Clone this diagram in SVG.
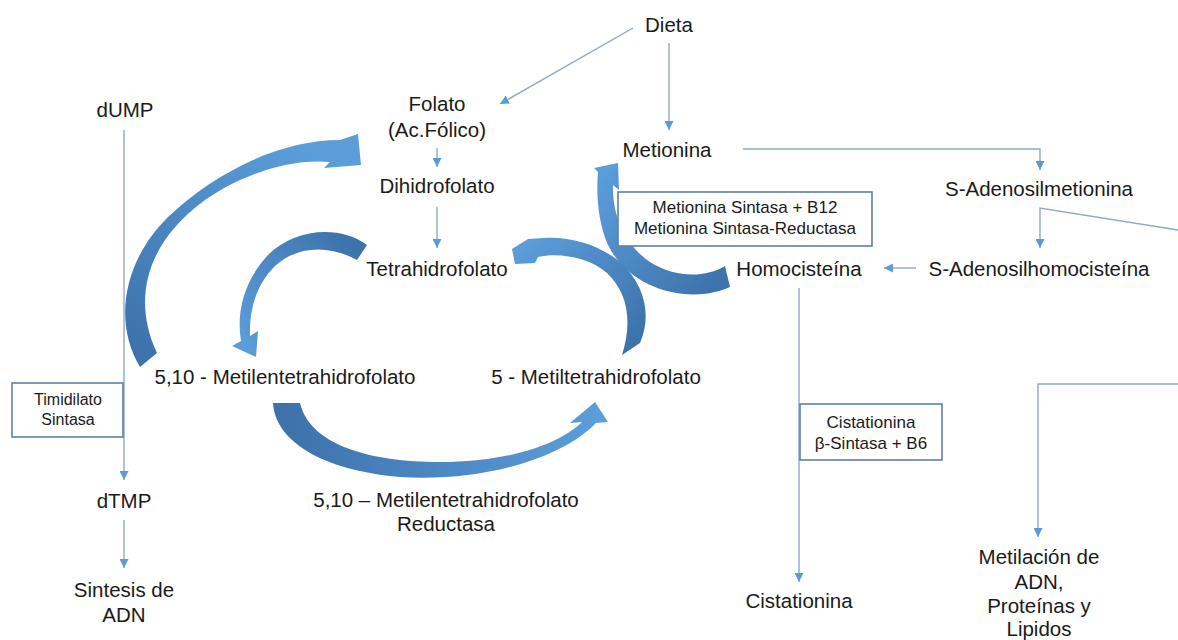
<svg xmlns="http://www.w3.org/2000/svg" width="1178" height="640" viewBox="0 0 1178 640">
<style>
text{font-family:"Liberation Sans",Arial,sans-serif;fill:#1a1a1a;text-anchor:middle}
.t{font-size:20.5px}
.b1{font-size:17px}
.b2{font-size:16px}
.b3{font-size:17px}
.ln{fill:none;stroke:#8ea8c8;stroke-width:1.4}
.box{fill:#fff;stroke:#5f80a8;stroke-width:1.6}
</style>
<defs>
<marker id="ah" viewBox="0 0 10 10" refX="10" refY="5" markerUnits="userSpaceOnUse" markerWidth="9" markerHeight="9" orient="auto">
<path d="M0,0 L10,5 L0,10 z" fill="#5b9bd5"/>
</marker>
<linearGradient id="g1" gradientUnits="userSpaceOnUse" x1="150" y1="360" x2="300" y2="145"><stop offset="0" stop-color="#3d72ab"/><stop offset="1" stop-color="#5b9dd9"/></linearGradient>
<linearGradient id="g2" gradientUnits="userSpaceOnUse" x1="360" y1="250" x2="245" y2="345"><stop offset="0" stop-color="#3d72ab"/><stop offset="1" stop-color="#5b9dd9"/></linearGradient>
<linearGradient id="g3" gradientUnits="userSpaceOnUse" x1="728" y1="276" x2="605" y2="170"><stop offset="0" stop-color="#3d72ab"/><stop offset="1" stop-color="#5b9dd9"/></linearGradient>
<linearGradient id="g4" gradientUnits="userSpaceOnUse" x1="630" y1="350" x2="520" y2="250"><stop offset="0" stop-color="#3d72ab"/><stop offset="1" stop-color="#5b9dd9"/></linearGradient>
<linearGradient id="g5" gradientUnits="userSpaceOnUse" x1="285" y1="403" x2="595" y2="415"><stop offset="0" stop-color="#3d72ab"/><stop offset="1" stop-color="#5b9dd9"/></linearGradient>
</defs>
<rect width="1178" height="640" fill="#fff"/>
<g id="connectors">
<line class="ln" x1="633" y1="28" x2="500" y2="104" marker-end="url(#ah)"/>
<line class="ln" x1="669" y1="43" x2="669" y2="130" marker-end="url(#ah)"/>
<line class="ln" x1="437" y1="148" x2="437" y2="167" marker-end="url(#ah)"/>
<line class="ln" x1="437" y1="207" x2="437" y2="248" marker-end="url(#ah)"/>
<polyline class="ln" points="743,149 1040,149 1040,170" marker-end="url(#ah)"/>
<polyline class="ln" points="1178,230 1040,208 1040,248" marker-end="url(#ah)"/>
<line class="ln" x1="916" y1="268" x2="884" y2="268" marker-end="url(#ah)"/>
<line class="ln" x1="799" y1="288" x2="799" y2="582" marker-end="url(#ah)"/>
<line class="ln" x1="124" y1="130" x2="124" y2="480" marker-end="url(#ah)"/>
<line class="ln" x1="124" y1="520" x2="124" y2="568" marker-end="url(#ah)"/>
<polyline class="ln" points="1178,384 1038,384 1038,537" marker-end="url(#ah)"/>
<path id="arc1" fill="url(#g1)" d="M140,367 C112,320 125,260 167,218 C215,172 280,140 340,140 L358,134 L361,165 L324,168 L330,162 C290,158 240,175 205,200 C150,240 130,295 157,353 Z"/>
<path id="arc2" fill="url(#g2)" d="M367,245 C340,225 295,228 268,255 C245,280 236,310 241,341 L232,346 L256,357 L258,331 L250,336 C249,310 256,285 275,266 C298,245 330,245 357,260 Z"/>
<path id="arc3" fill="url(#g3)" d="M730,287 C690,305 630,290 608,245 C598,222 596,195 598,172 L594,168 L618,163 L619,190 L613,185 C612,215 625,245 650,262 C675,278 705,278 725,266 Z"/>
<path id="arc4" fill="url(#g4)" d="M640,343 C652,315 645,285 620,262 C600,245 570,236 543,238 L528,239 L512,249 L515,264 L535,263 L538,257 C560,252 590,258 607,273 C627,292 633,320 622,355 Z"/>
<path id="arc5" fill="url(#g5)" d="M273,403 C275,440 320,470 400,477 C480,482 560,460 596,423 L608,422 L595,402 L570,423 L582,422 C555,448 500,462 440,462 C370,462 310,445 300,403 Z"/>
</g>
<g id="dieta"><text class="t" x="669" y="32">Dieta</text></g>
<g id="folato"><text class="t" x="437" y="111">Folato</text><text class="t" x="437" y="137">(Ac.Fólico)</text></g>
<g id="dihidrofolato"><text class="t" x="437" y="193">Dihidrofolato</text></g>
<g id="tetrahidrofolato"><text class="t" x="437" y="276">Tetrahidrofolato</text></g>
<g id="dump"><text class="t" x="125" y="117">dUMP</text></g>
<g id="metionina"><text class="t" x="667" y="157">Metionina</text></g>
<g id="sam"><text class="t" x="1039" y="196">S-Adenosilmetionina</text></g>
<g id="sah"><text class="t" x="1039" y="276">S-Adenosilhomocisteína</text></g>
<g id="homocisteina"><text class="t" x="799" y="276">Homocisteína</text></g>
<g id="metilen"><text class="t" x="285" y="384">5,10 - Metilentetrahidrofolato</text></g>
<g id="metil"><text class="t" x="596" y="384">5 - Metiltetrahidrofolato</text></g>
<g id="dtmp"><text class="t" x="124" y="508">dTMP</text></g>
<g id="sintesis"><text class="t" x="124" y="597">Sintesis de</text><text class="t" x="124" y="622">ADN</text></g>
<g id="reductasa"><text class="t" x="446" y="507">5,10 – Metilentetrahidrofolato</text><text class="t" x="446" y="531">Reductasa</text></g>
<g id="cistationina"><text class="t" x="799" y="608">Cistationina</text></g>
<g id="metilacion"><text class="t" x="1039" y="564">Metilación de</text><text class="t" x="1039" y="589">ADN,</text><text class="t" x="1039" y="613">Proteínas y</text><text class="t" x="1039" y="636">Lipidos</text></g>
<g id="timidilato"><rect class="box" x="12" y="383" width="111" height="54"/><text class="b2" x="68" y="405">Timidilato</text><text class="b2" x="68" y="425">Sintasa</text></g>
<g id="metsintasa"><rect class="box" x="618" y="192" width="254" height="54"/><text class="b1" x="745" y="213">Metionina Sintasa + B12</text><text class="b1" x="745" y="234">Metionina Sintasa-Reductasa</text></g>
<g id="cbs"><rect class="box" x="800" y="404" width="142" height="56"/><text class="b3" x="871" y="428">Cistationina</text><text class="b3" x="871" y="449">β-Sintasa + B6</text></g>
</svg>
